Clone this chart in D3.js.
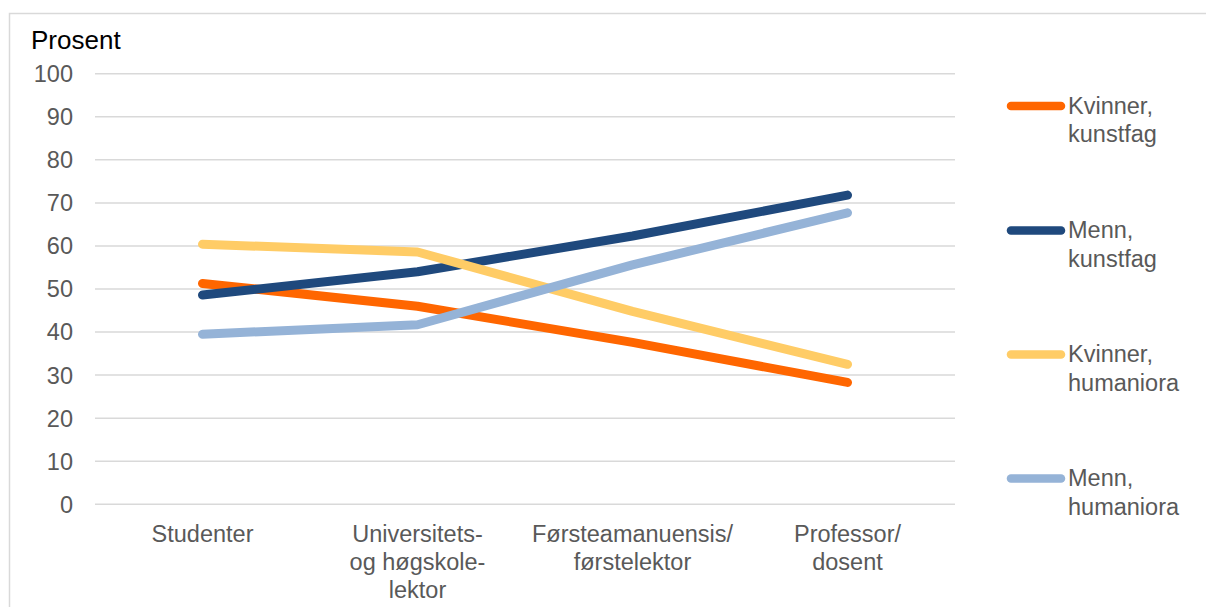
<!DOCTYPE html>
<html>
<head>
<meta charset="utf-8">
<script src="https://cdn.jsdelivr.net/npm/d3@7"></script>
<style>
  html, body { margin: 0; padding: 0; background: #fff; }
  svg { display: block; font-family: "Liberation Sans", Arial, sans-serif; }
</style>
</head>
<body>
<svg id="chart" width="1206" height="607"></svg>
<script>
const categories = [
  ["Studenter"],
  ["Universitets-", "og høgskole-", "lektor"],
  ["Førsteamanuensis/", "førstelektor"],
  ["Professor/", "dosent"]
];
const seriesNames = [
  ["Kvinner,", "kunstfag"],
  ["Menn,", "kunstfag"],
  ["Kvinner,", "humaniora"],
  ["Menn,", "humaniora"]
];
const kvinnerKunstfag = [51.3, 46.0, 37.6, 28.3];
const mennKunstfag = [48.6, 54.0, 62.3, 71.8];
const kvinnerHumaniora = [60.4, 58.6, 44.8, 32.5];
const mennHumaniora = [39.5, 41.7, 55.6, 67.7];
const yTicks = [0, 10, 20, 30, 40, 50, 60, 70, 80, 90, 100];
const colors = ["#FF6600", "#1F497D", "#FFCC66", "#95B3D7"];

const seriesValues = [kvinnerKunstfag, mennKunstfag, kvinnerHumaniora, mennHumaniora];

const svg = d3.select("#chart");
const fontSize = 23.5;
const textColor = "#595959";

// border
svg.append("path")
  .attr("d", "M9.5,607 L9.5,13.5 L1206,13.5")
  .attr("fill", "none").attr("stroke", "#d9d9d9").attr("stroke-width", 1.5);

const plot = { left: 95, right: 955, top: 73.7, bottom: 504.3 };

const x = d3.scaleBand().domain(d3.range(categories.length))
  .range([plot.left, plot.right]).padding(0);
const y = d3.scaleLinear().domain([0, 100]).range([plot.bottom, plot.top]);

// gridlines
svg.append("g").selectAll("line").data(yTicks).join("line")
  .attr("x1", plot.left).attr("x2", plot.right)
  .attr("y1", d => y(d)).attr("y2", d => y(d))
  .attr("stroke", "#d9d9d9").attr("stroke-width", 1.5);

// y tick labels
svg.append("g").selectAll("text").data(yTicks).join("text")
  .attr("x", 73).attr("y", d => y(d) + 8.4)
  .attr("text-anchor", "end")
  .attr("font-size", fontSize).attr("fill", textColor)
  .text(d => d);

// title
svg.append("text").attr("x", 31).attr("y", 48.5)
  .attr("font-size", 26).attr("fill", "#000").text("Prosent");

// category labels
const catG = svg.append("g");
categories.forEach((lines, i) => {
  const t = catG.append("text")
    .attr("text-anchor", "middle")
    .attr("font-size", fontSize).attr("fill", textColor);
  lines.forEach((ln, j) => {
    t.append("tspan").attr("x", x(i) + x.bandwidth() / 2)
      .attr("y", 541.5 + j * 28).text(ln);
  });
});

// lines
const line = d3.line()
  .x((d, i) => x(i) + x.bandwidth() / 2)
  .y(d => y(d));

svg.append("g").selectAll("path").data(seriesValues).join("path")
  .attr("d", d => line(d))
  .attr("fill", "none")
  .attr("stroke", (d, i) => colors[i])
  .attr("stroke-width", 9)
  .attr("stroke-linecap", "round")
  .attr("stroke-linejoin", "round");

// legend
const legendY = [106, 230.5, 354.5, 478.5];
const lg = svg.append("g");
seriesNames.forEach((names, i) => {
  lg.append("line")
    .attr("x1", 1011).attr("x2", 1061)
    .attr("y1", legendY[i]).attr("y2", legendY[i])
    .attr("stroke", colors[i]).attr("stroke-width", 8.5)
    .attr("stroke-linecap", "round");
  const t = lg.append("text").attr("font-size", fontSize).attr("fill", textColor);
  names.forEach((n, j) => {
    t.append("tspan").attr("x", 1068).attr("y", legendY[i] + 7.5 + j * 28.5).text(n);
  });
});
</script>
</body>
</html>
